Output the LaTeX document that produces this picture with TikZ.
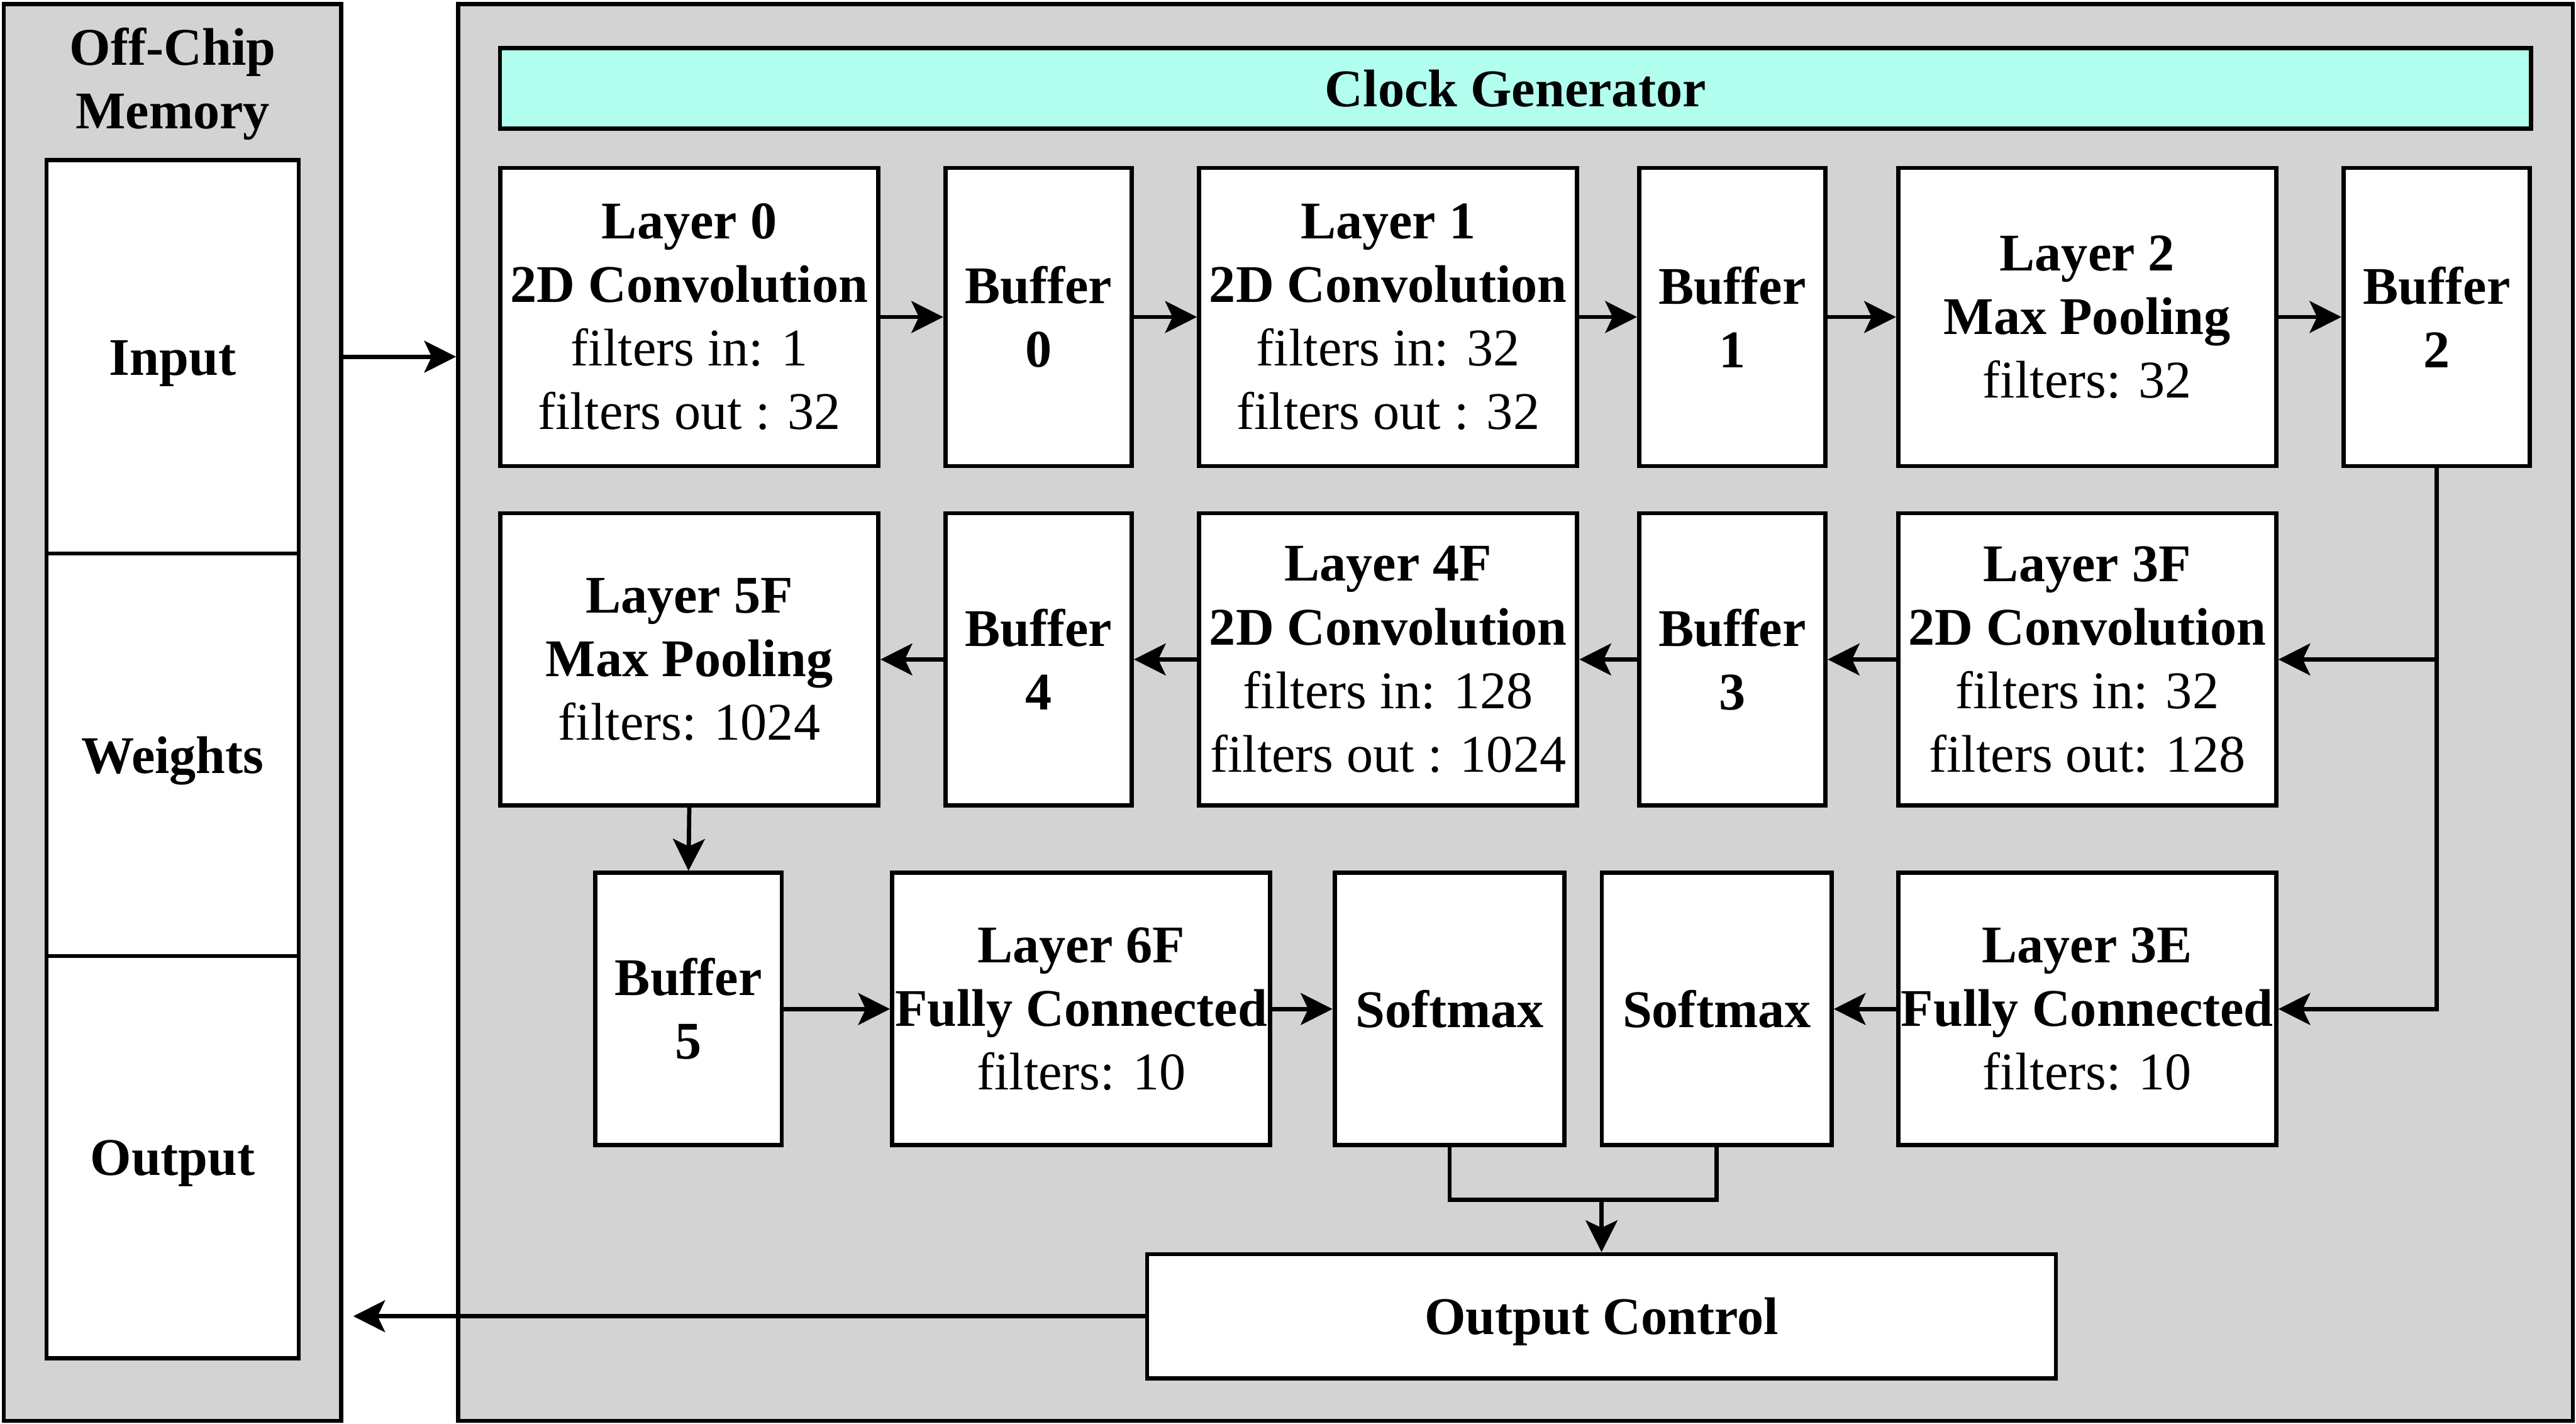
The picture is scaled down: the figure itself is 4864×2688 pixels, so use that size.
\documentclass[tikz,border=0pt]{standalone}
\usepackage{fontspec}
\setmainfont{Liberation Serif}
\usetikzlibrary{arrows.meta}
\definecolor{panelgray}{HTML}{D3D3D3}
\definecolor{clockcol}{RGB}{179,255,239}
\begin{document}
\begin{tikzpicture}[x=0.1pt,y=-0.1pt,
  blk/.style={draw, fill=white, line width=0.8pt, align=center, inner sep=0pt},
  one/.style={text height=8.9pt, text depth=2pt},
  panel/.style={draw, fill=panelgray, line width=0.8pt, inner sep=0pt},
  lay/.style={blk, minimum width=71.4pt},
  buf/.style={blk, minimum width=35.2pt},
  row1/.style={minimum height=56.3pt},
  row2/.style={minimum height=55.2pt},
  row3/.style={minimum height=51.4pt},
  arr/.style={line width=0.8pt, -{Stealth[length=6pt, width=6pt, inset=1.4pt]}},
  conn/.style={line width=0.8pt}
]
\useasboundingbox (0,0) rectangle (4864,2688);
% panels
\node[panel, minimum width=63.7pt, minimum height=267.5pt] (offchip) at (325.5,2686/2+2) {};
\node[panel, minimum width=399.3pt, minimum height=267.5pt] (mainpanel) at (2861.5,2686/2+2) {};
\node[align=center, font=\bfseries] (octitle) at (326,159) {Off-Chip\\Memory};
% memory boxes
\node[blk, one, minimum width=47.6pt, minimum height=74.3pt] (input) at (326,673.5) {\textbf{Input}};
\node[blk, one, minimum width=47.6pt, minimum height=76pt] (weights) at (326,1425) {\textbf{Weights}};
\node[blk, one, minimum width=47.6pt, minimum height=75.9pt] (output) at (326,2184.5) {\textbf{Output}};
% clock
\node[blk, one, fill=clockcol, minimum width=383.5pt, minimum height=15.2pt] (clock) at (2861.5,167) {\textbf{Clock Generator}};
% row 1
\node[lay,row1] (L0) at (1301.5,598.5) {\textbf{Layer 0}\\\textbf{2D Convolution}\\filters in: 1\\filters out : 32};
\node[buf,row1] (B0) at (1961,598.5) {\textbf{Buffer}\\\textbf{0}};
\node[lay,row1] (L1) at (2621,598.5) {\textbf{Layer 1}\\\textbf{2D Convolution}\\filters in: 32\\filters out : 32};
\node[buf,row1] (B1) at (3271,598.5) {\textbf{Buffer}\\\textbf{1}};
\node[lay,row1] (L2) at (3941,598.5) {\textbf{Layer 2}\\\textbf{Max Pooling}\\filters: 32};
\node[buf,row1] (B2) at (4601,598.5) {\textbf{Buffer}\\\textbf{2}};
% row 2
\node[lay,row2] (L5F) at (1301.5,1245) {\textbf{Layer 5F}\\\textbf{Max Pooling}\\filters: 1024};
\node[buf,row2] (B4) at (1961,1245) {\textbf{Buffer}\\\textbf{4}};
\node[lay,row2] (L4F) at (2621,1245) {\textbf{Layer 4F}\\\textbf{2D Convolution}\\filters in: 128\\filters out : 1024};
\node[buf,row2] (B3) at (3271,1245) {\textbf{Buffer}\\\textbf{3}};
\node[lay,row2] (L3F) at (3941,1245) {\textbf{Layer 3F}\\\textbf{2D Convolution}\\filters in: 32\\filters out: 128};
% row 3
\node[buf,row3] (B5) at (1300,1905) {\textbf{Buffer}\\\textbf{5}};
\node[lay,row3] (L6F) at (2041.5,1905) {\textbf{Layer 6F}\\\textbf{Fully Connected}\\filters: 10};
\node[blk,one,row3,minimum width=43.4pt] (SmL) at (2737,1905) {\textbf{Softmax}};
\node[blk,one,row3,minimum width=43.4pt] (SmR) at (3241.5,1905) {\textbf{Softmax}};
\node[lay,row3] (L3E) at (3941,1905) {\textbf{Layer 3E}\\\textbf{Fully Connected}\\filters: 10};
% output control
\node[blk, one, minimum width=171.6pt, minimum height=23.4pt] (outctrl) at (3024,2485) {\textbf{Output Control}};
% connectors
\draw[arr] (offchip.east |- input) -- (mainpanel.west |- input);
\draw[arr] (L0) -- (B0);
\draw[arr] (B0) -- (L1);
\draw[arr] (L1) -- (B1);
\draw[arr] (B1) -- (L2);
\draw[arr] (L2) -- (B2);
\draw[arr] (B2.south) |- (L3E.east);
\draw[arr] (B2.south |- L3F.east) -- (L3F.east);
\draw[arr] (L3F) -- (B3);
\draw[arr] (B3) -- (L4F);
\draw[arr] (L4F) -- (B4);
\draw[arr] (B4) -- (L5F);
\draw[arr] (L5F.south) -- (B5.north);
\draw[arr] (B5) -- (L6F);
\draw[arr] (L6F) -- (SmL);
\draw[arr] (L3E) -- (SmR);
\coordinate (j) at (3024,2265);
\draw[conn] (SmL.south) |- (j) -| (SmR.south);
\draw[arr] (j) -- (outctrl.north);
\draw[arr, shorten >=1.9pt] (outctrl.west) -- (offchip.east |- outctrl.west);
\end{tikzpicture}
\end{document}
